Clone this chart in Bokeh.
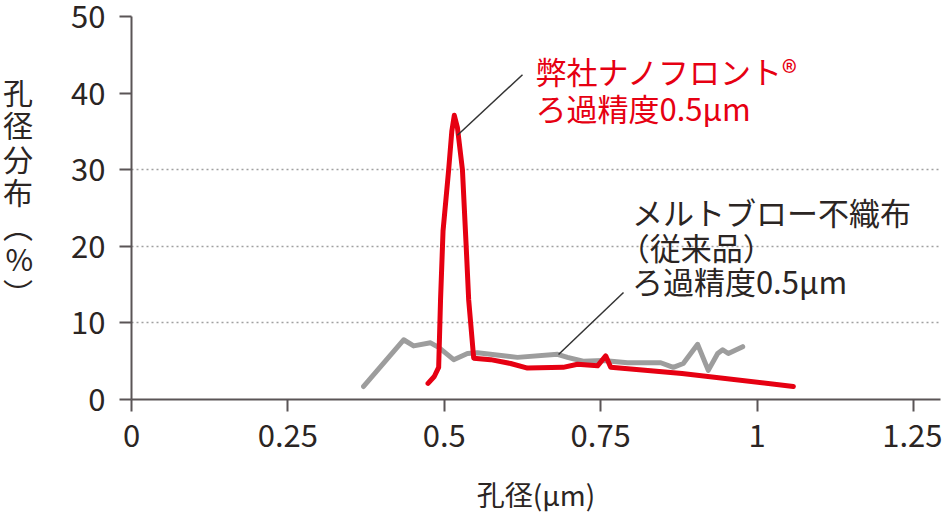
from bokeh.plotting import figure
from bokeh.models import Range1d, FixedTicker, Label
from bokeh.embed import file_html
from bokeh.resources import INLINE

# ---- data ----
x_ticks = [0, 0.25, 0.5, 0.75, 1.0, 1.25]
x_tick_labels = ["0", "0.25", "0.5", "0.75", "1", "1.25"]
y_ticks = [0, 10, 20, 30, 40, 50]
grid_ticks = [10, 20, 30]

# 弊社ナノフロント (red)
nano_x = [0.474, 0.484, 0.491, 0.494, 0.498, 0.507, 0.512, 0.516, 0.521, 0.529,
          0.535, 0.539, 0.547, 0.574, 0.606, 0.633, 0.690, 0.713, 0.745, 0.758,
          0.766, 0.880, 1.058]
nano_y = [2.1, 3.0, 4.2, 13.0, 22.0, 30.0, 35.0, 37.1, 35.5, 30.0,
          20.0, 13.0, 5.4, 5.2, 4.7, 4.1, 4.2, 4.6, 4.4, 5.7,
          4.2, 3.4, 1.7]

# メルトブロー不織布 (gray)
melt_x = [0.371, 0.435, 0.451, 0.478, 0.491, 0.515, 0.537, 0.553, 0.617, 0.681,
          0.697, 0.722, 0.754, 0.793, 0.846, 0.866, 0.882, 0.905, 0.922, 0.937,
          0.945, 0.954, 0.977]
melt_y = [1.7, 7.8, 7.0, 7.4, 6.8, 5.2, 6.0, 6.1, 5.5, 5.9,
          5.5, 5.0, 5.1, 4.8, 4.8, 4.2, 4.7, 7.2, 3.8, 6.0,
          6.5, 6.0, 6.9]

nano_label = ["弊社ナノフロント®", "ろ過精度0.5μm"]
melt_label = ["メルトブロー不織布", "（従来品）", "ろ過精度0.5μm"]
y_label_chars = ["孔", "径", "分", "布", "︵", "%", "︶"]
x_label = "孔径(μm)"

RED = "#e60012"
GRAY = "#9d9d9d"
DARK = "#2b2523"
AXIS = "#5a5556"
FONT = "Noto Sans CJK JP"

p = figure(width=942, height=524, output_backend="svg", toolbar_location=None,
           x_range=Range1d(0, 1.2932), y_range=Range1d(0, 50),
           min_border_left=131, min_border_right=2, min_border_top=16,
           min_border_bottom=125)
p.outline_line_color = None
p.background_fill_color = "white"
p.border_fill_color = "white"

# axes
for ax in (p.xaxis[0], p.yaxis[0]):
    ax.axis_line_color = AXIS
    ax.axis_line_width = 2
    ax.major_tick_line_color = AXIS
    ax.major_tick_line_width = 2
    ax.major_tick_out = 12
    ax.major_tick_in = 0
    ax.minor_tick_line_color = None
    ax.major_label_text_font = FONT
    ax.major_label_text_font_size = "31px"
    ax.major_label_text_color = DARK

p.xaxis.ticker = FixedTicker(ticks=x_ticks)
p.xaxis.major_label_overrides = {t: l for t, l in zip(x_ticks, x_tick_labels)}
p.xaxis.major_label_standoff = 12
p.xaxis.axis_label = x_label
p.xaxis.axis_label_text_font = FONT
p.xaxis.axis_label_text_font_size = "28px"
p.xaxis.axis_label_text_font_style = "normal"
p.xaxis.axis_label_text_color = DARK
p.xaxis.axis_label_standoff = 24

p.yaxis.ticker = FixedTicker(ticks=y_ticks)
p.yaxis.major_label_standoff = 14
# vertical (stacked) y-axis label
p.yaxis.axis_label = "\n".join(y_label_chars + [" "])
p.yaxis.axis_label_orientation = "horizontal"
p.yaxis.axis_label_text_font = FONT
p.yaxis.axis_label_text_font_size = "30px"
p.yaxis.axis_label_text_font_style = "normal"
p.yaxis.axis_label_text_color = DARK
p.yaxis.axis_label_text_line_height = 0.76
p.yaxis.axis_label_text_align = "center"
p.yaxis.axis_label_standoff = 35

p.xgrid.visible = False
p.ygrid.ticker = FixedTicker(ticks=grid_ticks)
p.ygrid.grid_line_color = "#a0a0a0"
p.ygrid.grid_line_width = 1.5
p.ygrid.grid_line_dash = "2 3"

# series
p.line(melt_x, melt_y, line_color=GRAY, line_width=5, line_join="round", line_cap="round")
p.line(nano_x, nano_y, line_color=RED, line_width=5, line_join="round", line_cap="round")

# leader lines
p.segment(x0=[0.521, 0.6826], y0=[34.5, 5.87], x1=[0.625, 0.7865], y1=[42.4, 13.97],
          line_color="#333333", line_width=1.5)

# annotations (data units)
for i, t in enumerate(nano_label):
    p.add_layout(Label(x=0.6458, y=43.0 - i * 4.9, text=t, text_font=FONT,
                       text_font_size="31px", text_color=RED,
                       text_baseline="middle", text_align="left"))
melt_dx = [0.0, -0.021, 0.0]
for i, t in enumerate(melt_label):
    p.add_layout(Label(x=0.7999 + melt_dx[i], y=24.5 - i * 4.5, text=t, text_font=FONT,
                       text_font_size="31px", text_color=DARK,
                       text_baseline="middle", text_align="left"))

open("out.html", "w").write(file_html(p, INLINE))
